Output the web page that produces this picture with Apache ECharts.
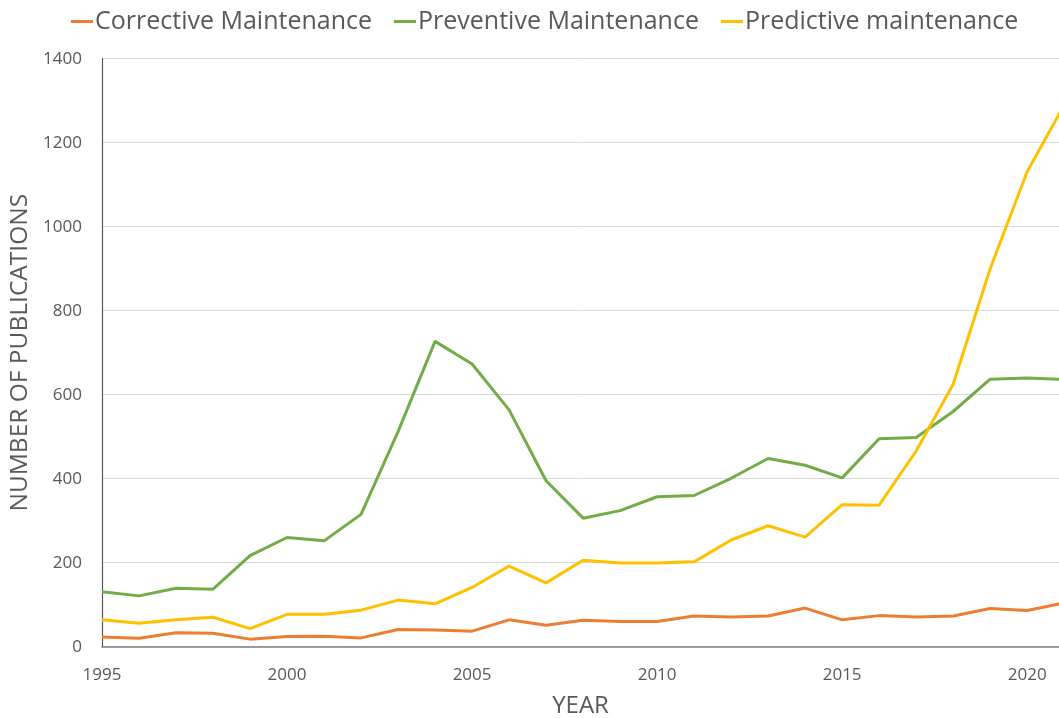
<!DOCTYPE html>
<html>
<head>
<meta charset="utf-8">
<script src="https://cdn.jsdelivr.net/npm/echarts@6/dist/echarts.min.js"></script>
<style>
  html, body { margin: 0; padding: 0; background: #fff; }
  #chart { width: 1059px; height: 718px; }
</style>
</head>
<body>
<div id="chart"></div>
<script>
var years = [1995, 1996, 1997, 1998, 1999, 2000, 2001, 2002, 2003, 2004, 2005, 2006, 2007,
             2008, 2009, 2010, 2011, 2012, 2013, 2014, 2015, 2016, 2017, 2018, 2019, 2020, 2021];

var corrective = [23, 20, 33, 32, 18, 24, 25, 21, 41, 40, 37, 64, 51,
                  63, 60, 60, 73, 71, 73, 92, 64, 74, 71, 73, 91, 86, 104];

var preventive = [131, 121, 139, 137, 217, 260, 252, 315, 512, 727, 673, 564, 395,
                  306, 324, 357, 360, 401, 448, 432, 402, 495, 498, 560, 637, 640, 636];

var predictive = [64, 56, 64, 70, 43, 77, 77, 87, 111, 102, 141, 192, 152,
                  206, 199, 199, 202, 254, 288, 261, 338, 337, 466, 625, 900, 1131, 1290];

var seriesNames = ['Corrective Maintenance', 'Preventive Maintenance', 'Predictive maintenance'];
var seriesColors = ['#ED7D31', '#70AD47', '#FFC000'];

var textColor = '#595959';
var fontFamily = '"Open Sans", "Noto Sans", sans-serif';

function pairs(values) {
    var out = [];
    for (var i = 0; i < years.length; i++) {
        out.push([years[i], values[i]]);
    }
    return out;
}

var allValues = [corrective, preventive, predictive];
var series = [];
for (var i = 0; i < allValues.length; i++) {
    series.push({
        name: seriesNames[i],
        type: 'line',
        data: pairs(allValues[i]),
        symbol: 'none',
        clip: true,
        color: seriesColors[i],
        lineStyle: { width: 3, color: seriesColors[i] }
    });
}

var chart = echarts.init(document.getElementById('chart'));
chart.setOption({
    animation: false,
    textStyle: { fontFamily: fontFamily },
    legend: {
        top: 4,
        left: 66,
        icon: 'rect',
        itemWidth: 22,
        itemHeight: 3,
        itemGap: 22,
        data: seriesNames,
        textStyle: { fontSize: 25, color: textColor, fontFamily: fontFamily, padding: [0, 0, 0, -3] }
    },
    grid: {
        left: 102,
        right: 0,
        top: 58.7,
        bottom: 71.3,
        containLabel: false,
        outerBoundsMode: 'none'
    },
    xAxis: {
        type: 'value',
        min: 1995,
        max: 2020.86,
        interval: 5,
        name: 'YEAR',
        nameLocation: 'middle',
        nameGap: 47,
        nameTextStyle: { fontSize: 24, color: textColor, fontFamily: fontFamily },
        axisLine: { show: true, lineStyle: { color: '#7f7f7f', width: 1.5 } },
        axisTick: { show: false },
        splitLine: { show: false },
        axisLabel: {
            fontSize: 17,
            color: textColor,
            margin: 20,
            showMaxLabel: false,
            formatter: function (v) { return v % 5 === 0 ? String(v) : ''; }
        }
    },
    yAxis: {
        type: 'value',
        min: 0,
        max: 1400,
        interval: 200,
        name: 'NUMBER OF PUBLICATIONS',
        nameLocation: 'middle',
        nameGap: 68,
        nameTextStyle: { fontSize: 24.5, color: textColor, fontFamily: fontFamily },
        axisLine: { show: true, lineStyle: { color: '#595959', width: 1.2 } },
        axisTick: { show: false },
        splitLine: { show: true, lineStyle: { color: '#d9d9d9', width: 1 } },
        axisLabel: {
            fontSize: 17,
            color: textColor,
            margin: 20,
            formatter: function (v) { return String(v); }
        }
    },
    series: series
});
</script>
</body>
</html>
